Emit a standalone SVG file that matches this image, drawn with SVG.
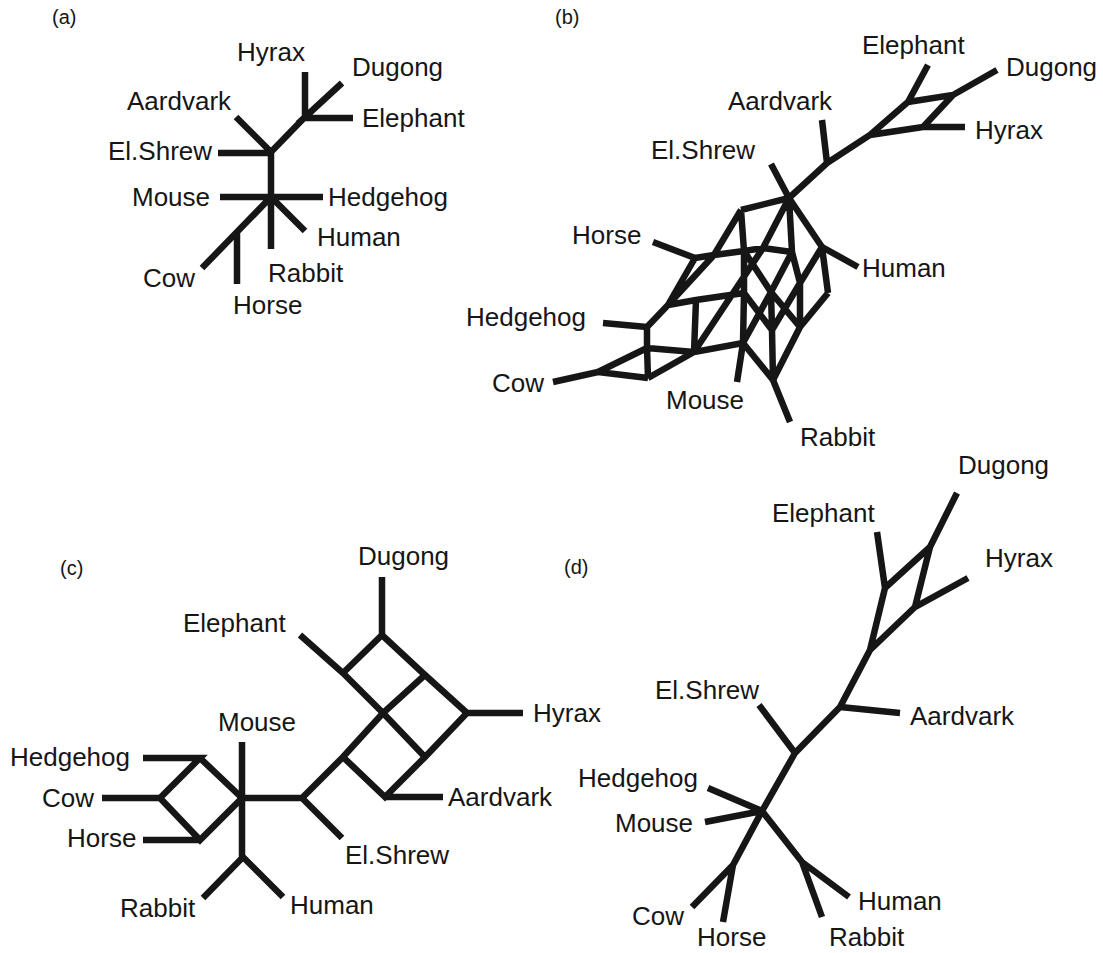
<svg xmlns="http://www.w3.org/2000/svg" width="1103" height="953" viewBox="0 0 1103 953">
<style>
.e{fill:none;stroke:#161616;stroke-width:6.5;stroke-linejoin:miter;stroke-linecap:butt}
.t{font-family:"Liberation Sans",Arial,sans-serif;font-size:26px;fill:#161616}
.p{font-family:"Liberation Sans",Arial,sans-serif;font-size:20px;fill:#161616}
</style>
<rect width="1103" height="953" fill="#fff"/>
<g id="connectors" class="e">
<!-- panel a -->
<path d="M305,72V118M342,83L304,118H353M304,118L271,152M236,117L271,152M218,153H271M271,152V249M220,197H323M271,197L305,231M271,197L202,268M237,233V284"/>
<!-- panel b upper -->
<path d="M771,164L789,198L827,163L870,135L908,102L928,65M908,102L953,95L997,70M953,95L923,127H965M870,135L923,127M822,120L827,163"/>
<!-- panel b network -->
<path d="M789,198L741,210M789,198L763,248M789,198L792,252M789,198L822,247M741,210L714,255L668,305M741,210L744,251L744,293L743,343M695,258L714,255L744,251L763,248L792,252M695,258L668,305L696,300L744,293M668,305L647,327M696,300L694,352M763,248L694,352M647,327L647,348L648,378M598,372L647,348M598,372L648,378M647,348L694,352M648,378L694,352L743,343M822,247L828,293M743,343L771,292L792,252M772,330L800,283L822,247M773,380L800,327L828,293M744,251L771,292L800,327M744,293L772,330M743,343L773,380M771,292L772,330L773,380M792,252L800,283L800,327"/>
<path d="M653,242L695,258M603,323L647,327M553,382L598,372M737,382L743,343M790,422L773,380M858,267L822,247"/>
<!-- panel c -->
<path d="M143,758H200L160,798L200,840L242,798L200,758M102,798H160M143,840H200M242,742V857M203,898L243,857L283,897M242,798H302L343,757L383,713L425,675L382,635L343,673M382,635V577M300,635L343,673L383,713L425,757L467,713L425,675M467,713H523M343,757L385,797L425,757M385,797H443M302,798L342,838"/>
<!-- panel d -->
<path d="M957,493L930,547L885,588L877,532M930,547L915,607L968,578M915,607L870,650L885,588M870,650L840,707L900,713M840,707L795,753L759,705M795,753L762,811L708,788M762,811L705,822M762,811L733,865L692,907M733,865L723,922M762,811L802,862L849,897M802,862L822,917"/>
</g>
<g id="panel-labels" class="p">
<text x="52" y="24">(a)</text>
<text x="555" y="24">(b)</text>
<text x="60" y="575">(c)</text>
<text x="564" y="574">(d)</text>
</g>
<g id="tree-a">
<g id="a-hyrax"><text class="t" x="237" y="61">Hyrax</text></g>
<g id="a-dugong"><text class="t" x="352" y="76">Dugong</text></g>
<g id="a-aardvark"><text class="t" x="127" y="110">Aardvark</text></g>
<g id="a-elephant"><text class="t" x="362" y="127">Elephant</text></g>
<g id="a-elshrew"><text class="t" x="108" y="160">El.Shrew</text></g>
<g id="a-mouse"><text class="t" x="132" y="206">Mouse</text></g>
<g id="a-hedgehog"><text class="t" x="328" y="206">Hedgehog</text></g>
<g id="a-human"><text class="t" x="317" y="246">Human</text></g>
<g id="a-cow"><text class="t" x="143" y="287">Cow</text></g>
<g id="a-rabbit"><text class="t" x="268" y="282">Rabbit</text></g>
<g id="a-horse"><text class="t" x="233" y="314">Horse</text></g>
</g>
<g id="network-b">
<g id="b-elephant"><text class="t" x="862" y="54">Elephant</text></g>
<g id="b-dugong"><text class="t" x="1006" y="76">Dugong</text></g>
<g id="b-aardvark"><text class="t" x="728" y="110">Aardvark</text></g>
<g id="b-hyrax"><text class="t" x="975" y="139">Hyrax</text></g>
<g id="b-elshrew"><text class="t" x="651" y="159">El.Shrew</text></g>
<g id="b-horse"><text class="t" x="572" y="244">Horse</text></g>
<g id="b-human"><text class="t" x="862" y="277">Human</text></g>
<g id="b-hedgehog"><text class="t" x="466" y="326">Hedgehog</text></g>
<g id="b-cow"><text class="t" x="492" y="392">Cow</text></g>
<g id="b-mouse"><text class="t" x="666" y="409">Mouse</text></g>
<g id="b-rabbit"><text class="t" x="800" y="446">Rabbit</text></g>
</g>
<g id="network-c">
<g id="c-dugong"><text class="t" x="358" y="565">Dugong</text></g>
<g id="c-elephant"><text class="t" x="183" y="632">Elephant</text></g>
<g id="c-hyrax"><text class="t" x="533" y="722">Hyrax</text></g>
<g id="c-mouse"><text class="t" x="218" y="731">Mouse</text></g>
<g id="c-hedgehog"><text class="t" x="10" y="766">Hedgehog</text></g>
<g id="c-cow"><text class="t" x="42" y="807">Cow</text></g>
<g id="c-aardvark"><text class="t" x="448" y="806">Aardvark</text></g>
<g id="c-horse"><text class="t" x="67" y="847">Horse</text></g>
<g id="c-elshrew"><text class="t" x="345" y="864">El.Shrew</text></g>
<g id="c-rabbit"><text class="t" x="120" y="917">Rabbit</text></g>
<g id="c-human"><text class="t" x="290" y="914">Human</text></g>
</g>
<g id="network-d">
<g id="d-dugong"><text class="t" x="958" y="474">Dugong</text></g>
<g id="d-elephant"><text class="t" x="772" y="522">Elephant</text></g>
<g id="d-hyrax"><text class="t" x="985" y="567">Hyrax</text></g>
<g id="d-elshrew"><text class="t" x="655" y="699">El.Shrew</text></g>
<g id="d-aardvark"><text class="t" x="910" y="725">Aardvark</text></g>
<g id="d-hedgehog"><text class="t" x="578" y="787">Hedgehog</text></g>
<g id="d-mouse"><text class="t" x="615" y="832">Mouse</text></g>
<g id="d-human"><text class="t" x="858" y="910">Human</text></g>
<g id="d-cow"><text class="t" x="632" y="925">Cow</text></g>
<g id="d-rabbit"><text class="t" x="829" y="946">Rabbit</text></g>
<g id="d-horse"><text class="t" x="697" y="946">Horse</text></g>
</g>
</svg>
